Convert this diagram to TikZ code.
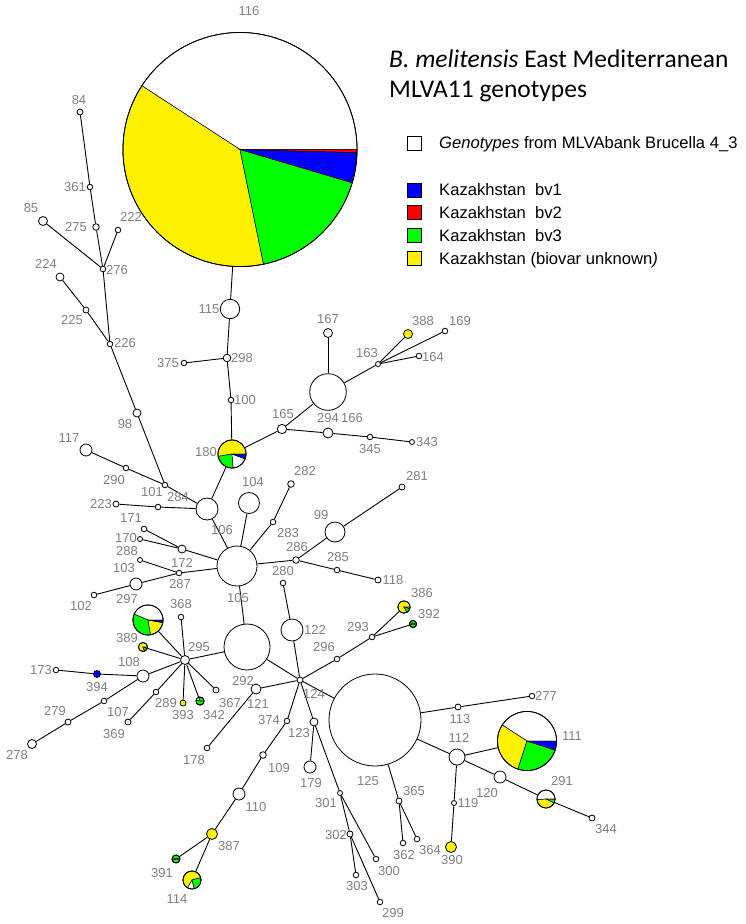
\documentclass[tikz,border=0pt]{standalone}
\usepackage{fontspec}
\setmainfont{Liberation Sans}
\newfontfamily\titlefont{Carlito}

% pie chart drawn over a named genotype node: node, radius, slices start/end/colour
\newcommand{\drawpie}[3]{%
  \foreach \s/\e/\c in {#3} {
    \filldraw[fill=\c, draw=black, line width=0.5pt] (#1.center) -- ++(\s:#2pt)
      arc[start angle=\s, end angle=\e, radius=#2pt] -- cycle;
  }
  \draw[line width=0.8pt] (#1.center) circle[radius=#2pt];
}

\begin{document}
\begin{tikzpicture}[x=1pt, y=1pt,
    gt/.style={circle, draw, inner sep=0pt, line width=0.8pt},
    lbl/.style={text=gray, inner sep=0pt, font=\fontsize{13}{15}\selectfont},
    keybox/.style={draw, minimum size=14pt, inner sep=0pt, line width=0.6pt},
    legtext/.style={anchor=base west, inner sep=0pt, font=\fontsize{16.6}{19}\selectfont},
    titletext/.style={anchor=base west, inner sep=0pt, font=\titlefont\fontsize{25.5}{30}\selectfont}]
    \useasboundingbox (0,0) rectangle (746,-924);

    % Genotype nodes: name/x/y/radius/fill
    \foreach \n/\x/\y/\r/\f in {
        116/240/149.5/117/white, 115/230/309/9.7/white, 298/227/358/3.8/white,
        375/184/363/2.8/white, 100/231/400/2.8/white, 180/232/454/14/white,
        84/80/112/3/white, 361/90/187/2.8/white, 275/96/227/3.3/white,
        85/43/221/4.5/white, 222/118/230/2.8/white, 276/103/269/2.8/white,
        224/60/277/4/white, 225/86/310/3/white, 226/110/344/2.8/white,
        98/137/413/4/white, 117/86/450/6/white, 290/126/468/2.8/white,
        101/165/485/2.8/white, 223/116/504/3/white, 284/158/507/2.8/white,
        106/207/509/11/white, 105/237/566/20/white, 104/249/503/10.5/white,
        282/291/484/3.3/white, 283/273/522/2.8/white, 99/335/532/10/white,
        281/402/487/3/white, 286/296/560/3.3/white, 285/337/570/2.8/white,
        118/378/580/3/white, 280/283/583/2.8/white, 122/292/630/11/white,
        165/282/429/4.7/white, 294/328/392/18.3/white, 166/328/433/5/white,
        167/328/333/4.5/white, 163/378/364/2.5/white, 388/408/334/4.5/yellow,
        169/445/331/2.8/white, 164/419/356/2.8/white, 345/370/437/2.8/white,
        343/412/442/2.5/white, 171/144/529/2.8/white, 170/140/539/2.5/white,
        172/182/549/4/white, 288/140/560/2.5/white, 287/179/573/2.8/white,
        297/136/584/6/white, 102/94/595/2.8/white, 368/181/617/2.8/white,
        389/148/620/15/white, 389s/143/647/4.5/white, 295/185/660/4.5/white,
        108/143/676/6/white, 394/97/674/3.5/blue, 173/56/670/2.8/white,
        107/104/701/2.8/white, 279/68/722/3/white, 278/32/744/4.5/white,
        289/156/692/2.8/white, 369/128/722/3/white, 393/183/703/3/yellow,
        342/200/701/4/white, 367/216/690/3/white, 292/247/647/23/white,
        124/300/680/3/white, 296/337/659/2.8/white, 293/372/637/2.8/white,
        386/404/607/6/white, 392/413/624/3.5/white, 121/256/689/5/white,
        178/207/748/2.8/white, 374/287/721/2.8/white, 109/263/755/3.3/white,
        110/239/794/6/white, 387/212/834/5.5/yellow, 391/176/859/4/white,
        114/192/880/9/white, 123/314/722/4/white, 179/310/767/6/white,
        301/340/793/2.5/white, 302/350/834/3/white, 300/376/859/2.8/white,
        303/356/875/2.8/white, 299/380/902/2.8/white, 125/375/720/46/white,
        365/399/801/3/white, 362/403/843/2.8/white, 364/417/839/2.8/white,
        113/458/707/3/white, 277/532/696/2.8/white, 112/457/757/8/white,
        111/527/741/29.5/white, 120/500/777/6/white, 291/546/799/9/white,
        344/592/818/3/white, 119/454/803/2.5/white, 390/451/847/5.5/yellow}
        \node[gt, fill=\f, minimum size=2*\r*1pt] (g\n) at (\x,-\y) {};

    % Links of the spanning tree
    \foreach \a/\b in {
        84/361, 361/275, 275/276, 85/276, 222/276, 276/226, 224/225, 225/226,
        226/98, 98/101, 117/290, 290/101, 101/106, 223/284, 284/106,
        116/115, 115/298, 298/375, 298/100, 100/180, 180/165, 180/106,
        165/294, 165/166, 166/345, 345/343, 294/167, 294/163, 163/388,
        163/169, 163/164, 106/105, 105/104, 105/283, 283/282, 105/286,
        286/99, 99/281, 286/285, 285/118, 105/172, 172/171, 172/170,
        105/287, 287/288, 287/297, 297/102, 105/292, 292/295, 292/124,
        280/122, 122/124, 124/296, 296/293, 293/386, 293/392, 124/121,
        121/178, 124/374, 374/109, 109/110, 110/387, 387/391, 387/114,
        124/123, 123/179, 123/301, 301/302, 301/300, 302/303, 302/299,
        124/125, 125/365, 365/362, 365/364, 125/113, 113/277, 125/112,
        112/111, 112/120, 120/291, 291/344, 112/119, 119/390,
        295/389, 295/389s, 295/108, 295/289, 289/369, 295/393, 295/342,
        295/367, 295/368, 108/394, 394/173, 108/107, 107/279, 279/278}
        \draw[line width=0.9pt] (g\a) -- (g\b);

    % Pie charts
    \drawpie{g116}{117}{0/147/white, 147/281.6/yellow, 281.6/343.5/green, 343.5/358.5/blue, 358.5/360/red}
    \drawpie{g180}{14}{0/190/yellow, 190/275/green, 275/340/white, 340/360/blue}
    \drawpie{g389}{15}{0/157/white, 157/280/green, 280/350/yellow, 350/360/blue}
    \drawpie{g111}{29.5}{0/147/white, 147/252/yellow, 252/342/green, 342/360/blue}
    \drawpie{g291}{9}{0/185/white, 185/335/yellow, 335/358/green, 358/360/white}
    \drawpie{g386}{6}{0/300/yellow, 300/345/green, 345/360/yellow}
    \drawpie{g389s}{4.5}{0/290/yellow, 290/340/green, 340/360/yellow}
    \drawpie{g342}{4}{0/100/green, 100/170/white, 170/360/green}
    \drawpie{g392}{3.5}{-20/20/yellow, 20/160/green, 160/200/yellow, 200/340/green}
    \drawpie{g391}{4}{-20/20/yellow, 20/160/green, 160/200/yellow, 200/340/green}
    \drawpie{g114}{9}{15/240/yellow, 240/285/white, 285/375/green}

    % Genotype labels
    \foreach \t/\x/\y in {
        116/249/11, 84/79/100, 361/75/187, 85/31/208, 275/76/227, 222/131/217,
        276/117/270, 224/46/264, 225/72/320, 226/125/343, 115/209/309,
        298/242/358, 375/168/363, 100/245/400, 98/125/424, 117/69/438,
        290/114/480, 101/152/492, 284/178/497, 223/101/504, 106/222/530,
        105/238/598, 180/206/452, 104/253/482, 282/305/471, 283/288/533,
        99/321/515, 281/417/476, 286/297/547, 285/338/557, 118/393/580,
        280/283/571, 122/315/630, 165/283/414, 294/328/418, 166/352/418,
        167/328/319, 163/367/353, 388/423/321, 169/460/321, 164/433/357,
        345/370/449, 343/427/442, 171/131/518, 170/126/538, 288/127/551,
        103/124/568, 172/182/563, 287/180/584, 297/127/599, 102/81/606,
        368/181/604, 389/127/638, 295/199/647, 108/129/662, 173/41/670,
        394/97/687, 279/55/711, 107/118/712, 369/114/734, 278/17/755,
        289/166/703, 393/183/715, 342/214/715, 367/230/703, 292/243/681,
        124/314/694, 296/324/647, 293/358/627, 386/422/593, 392/429/614,
        121/258/704, 178/194/760, 374/269/720, 123/299/733, 179/311/783,
        109/279/768, 110/256/807, 387/229/846, 391/162/873, 114/177/899,
        301/326/803, 302/336/835, 300/389/871, 303/357/886, 299/393/913,
        125/368/781, 365/414/791, 362/404/855, 364/430/850, 113/460/719,
        112/459/738, 119/468/803, 390/452/860, 120/487/793, 277/546/696,
        111/572/736, 291/562/781, 344/606/829}
        \node[lbl] (l\t) at (\x,-\y) {\t};

    % Title and legend
    \node[titletext] (title1) at (389,-67) {\textit{B. melitensis} East Mediterranean};
    \node[titletext] (title2) at (389,-97) {MLVA11 genotypes};

    \node[keybox, fill=white] (kwhite) at (414.5,-143.5) {};
    \node[keybox, fill=blue] (kbv1) at (414.5,-190) {};
    \node[keybox, fill=red] (kbv2) at (414.5,-212) {};
    \node[keybox, fill=green] (kbv3) at (414.5,-235) {};
    \node[keybox, fill=yellow] (kunk) at (414.5,-258) {};

    \node[legtext] (twhite) at (439,-148.5) {\textit{Genotypes} from MLVAbank Brucella 4\_3};
    \node[legtext] (tbv1) at (439,-195.5) {Kazakhstan\ \ bv1};
    \node[legtext] (tbv2) at (439,-218) {Kazakhstan\ \ bv2};
    \node[legtext] (tbv3) at (439,-241) {Kazakhstan\ \ bv3};
    \node[legtext] (tunk) at (439,-264) {Kazakhstan (biovar unknown\textit{)}};

\end{tikzpicture}
\end{document}
